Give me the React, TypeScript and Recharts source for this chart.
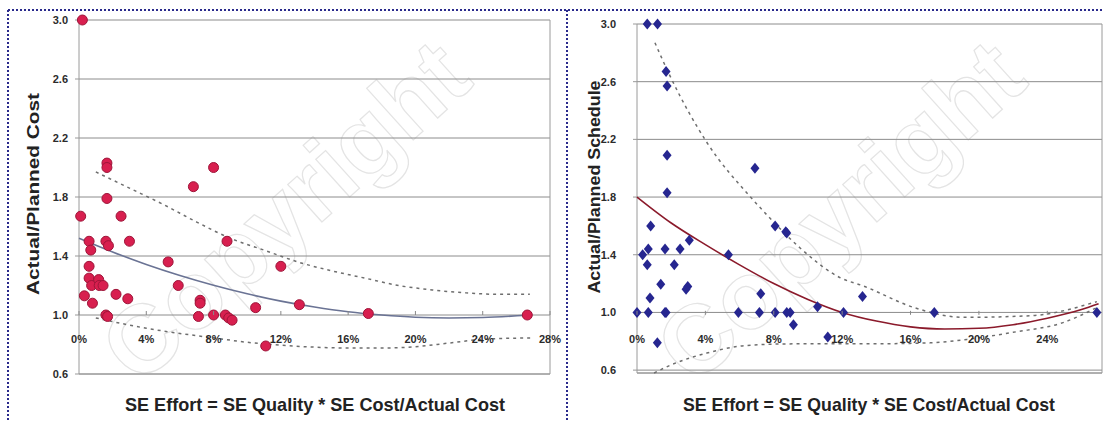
import { ScatterChart, Scatter, XAxis, YAxis, CartesianGrid, ReferenceLine } from "recharts";

const FONT = "Arial, 'Liberation Sans', sans-serif";
const H = 422;

const Y_MIN = 0.6;
const Y_MAX = 3.0;
const Y_TICKS = [0.6, 1.0, 1.4, 1.8, 2.2, 2.6, 3.0];
const COST_X_TICKS = [0, 0.04, 0.08, 0.12, 0.16, 0.2, 0.24, 0.28];
const SCHED_X_TICKS = [0, 0.04, 0.08, 0.12, 0.16, 0.2, 0.24];

// left chart: actual/planned cost
const costEffort = [
  0.002, 0.0166, 0.0166, 0.0166, 0.08, 0.068, 0.001, 0.025, 0.006, 0.007, 0.016, 0.0175, 0.03,
  0.006, 0.006, 0.0075, 0.0117, 0.012, 0.0143, 0.0032, 0.008, 0.022, 0.029, 0.016, 0.017, 0.053,
  0.059, 0.072, 0.072, 0.071, 0.08, 0.087, 0.089, 0.091, 0.088, 0.105, 0.111, 0.12, 0.131, 0.172, 0.2665,
];
const costRatio = [
  3.0, 2.03, 2.0, 1.79, 2.0, 1.87, 1.67, 1.67, 1.5, 1.44, 1.5, 1.47, 1.5,
  1.33, 1.25, 1.2, 1.24, 1.2, 1.2, 1.13, 1.08, 1.14, 1.11, 1.0, 0.99, 1.36,
  1.2, 1.1, 1.08, 0.99, 1.0, 1.0, 0.98, 0.965, 1.5, 1.05, 0.79, 1.33, 1.07, 1.01, 1.0,
];
const costFitX = [0, 0.02, 0.04, 0.06, 0.08, 0.1, 0.12, 0.14, 0.16, 0.18, 0.2, 0.22, 0.24, 0.2665];
const costFitY = [1.52, 1.427, 1.343, 1.268, 1.202, 1.144, 1.094, 1.054, 1.022, 1.0, 0.985, 0.98, 0.983, 0.998];
const costUpperX = [0.01, 0.03, 0.05, 0.07, 0.09, 0.11, 0.13, 0.15, 0.17, 0.19, 0.21, 0.23, 0.25, 0.268];
const costUpperY = [1.97, 1.86, 1.75, 1.63, 1.52, 1.44, 1.36, 1.3, 1.25, 1.2, 1.17, 1.15, 1.14, 1.14];
const costLowerX = [0.01, 0.02, 0.04, 0.06, 0.08, 0.1, 0.12, 0.14, 0.16, 0.18, 0.2, 0.22, 0.24, 0.27];
const costLowerY = [0.98, 0.955, 0.91, 0.875, 0.845, 0.815, 0.795, 0.782, 0.776, 0.776, 0.785, 0.81, 0.835, 0.845];

// right chart: actual/planned schedule
const schedEffort = [
  0.006, 0.012, 0.017, 0.0176, 0.0176, 0.0176, 0.069, 0.008, 0.0033, 0.0066, 0.006, 0.0164, 0.0218,
  0.0252, 0.0306, 0.0297, 0.0287, 0.0139, 0.0076, 0.0119, 0, 0.0066, 0.0164, 0.017, 0.0535, 0.0593,
  0.0716, 0.0724, 0.0808, 0.0876, 0.0896, 0.0808, 0.0876, 0.087, 0.0915, 0.1056, 0.1116, 0.1208,
  0.1319, 0.1739, 0.269,
];
const schedRatio = [
  3.0, 3.0, 2.67, 2.57, 2.09, 1.83, 2.0, 1.6, 1.4, 1.44, 1.33, 1.44, 1.33,
  1.44, 1.5, 1.18, 1.16, 1.195, 1.1, 0.79, 1.0, 1.0, 1.0, 1.0, 1.4, 1.0,
  1.0, 1.13, 1.0, 1.0, 1.0, 1.6, 1.55, 1.56, 0.915, 1.04, 0.83, 1.0,
  1.11, 1.0, 1.0,
];
const schedFitX = [0, 0.02, 0.04, 0.06, 0.08, 0.1, 0.12, 0.14, 0.16, 0.18, 0.2, 0.22, 0.24, 0.26, 0.27];
const schedFitY = [1.8, 1.62, 1.47, 1.33, 1.2, 1.09, 1.0, 0.94, 0.9, 0.885, 0.89, 0.915, 0.96, 1.02, 1.06];
const schedUpperX = [0.0105, 0.0193, 0.0408, 0.0672, 0.076, 0.0954, 0.119, 0.1325, 0.162, 0.191, 0.23, 0.269];
const schedUpperY = [2.87, 2.64, 2.18, 1.79, 1.676, 1.447, 1.24, 1.183, 1.034, 0.966, 0.977, 1.075];
const schedLowerX = [0.01, 0.0193, 0.0408, 0.0642, 0.0915, 0.1325, 0.1715, 0.195, 0.22, 0.2496, 0.269];
const schedLowerY = [0.58, 0.633, 0.718, 0.771, 0.782, 0.782, 0.789, 0.816, 0.862, 0.931, 1.034];

const zip = (xs: number[], ys: number[]) => xs.map((x, i) => ({ x, y: ys[i] }));

const tickStyle = { fill: "#2b2b2b", fontSize: 11, fontWeight: 700, fontFamily: FONT };

const RedDot = (p: any) => (
  <circle cx={p.cx} cy={p.cy} r={5} fill="#d81f4f" stroke="#9e1539" strokeWidth={1} />
);
const BlueDiamond = (p: any) => (
  <path d={`M${p.cx},${p.cy - 5.5}L${p.cx + 4.5},${p.cy}L${p.cx},${p.cy + 5.5}L${p.cx - 4.5},${p.cy}Z`} fill="#262690" />
);
const NoShape = () => <g />;

// x axis crosses at y = 1.0, so tick labels sit under that gridline
const XTick = ({ x, payload, crossY }: any) => (
  <g>
    <line x1={x} x2={x} y1={crossY - 4} y2={crossY} stroke="#888" />
    <text x={x} y={crossY + 28} textAnchor="middle" {...tickStyle}>
      {Math.round(payload.value * 100)}%
    </text>
  </g>
);

interface PanelProps {
  width: number;
  margin: { top: number; right: number; bottom: number; left: number };
  yWidth: number;
  yTickMargin: number;
  xMax: number;
  xTicks: number[];
  points: { x: number; y: number }[];
  fit: { x: number; y: number }[];
  upper: { x: number; y: number }[];
  lower: { x: number; y: number }[];
  fitColor: string;
  shape: any;
}

function Panel({ width, margin, yWidth, yTickMargin, xMax, xTicks, points, fit, upper, lower, fitColor, shape }: PanelProps) {
  const plotH = H - margin.top - margin.bottom - 20;
  const crossY = margin.top + ((Y_MAX - 1) / (Y_MAX - Y_MIN)) * plotH;
  return (
    <ScatterChart width={width} height={H} margin={margin}>
      <CartesianGrid vertical={false} stroke="#8c8c8c" />
      <XAxis
        type="number"
        dataKey="x"
        domain={[0, xMax]}
        ticks={xTicks}
        interval={0}
        height={20}
        axisLine={{ stroke: "#9a9a9a" }}
        tickLine={false}
        tick={(p: any) => <XTick {...p} crossY={crossY} />}
      />
      <YAxis
        type="number"
        dataKey="y"
        domain={[Y_MIN, Y_MAX]}
        ticks={Y_TICKS}
        width={yWidth}
        tickFormatter={(v: number) => v.toFixed(1)}
        tick={tickStyle}
        tickSize={4}
        tickMargin={yTickMargin}
        tickLine={{ stroke: "#999" }}
        axisLine={{ stroke: "#9a9a9a" }}
      />
      <ReferenceLine x={xMax} stroke="#9a9a9a" />
      <Scatter data={upper} line={{ stroke: "#6e6e6e", strokeWidth: 1.5, strokeDasharray: "3 4" }} lineJointType="monotoneX" shape={NoShape} isAnimationActive={false} />
      <Scatter data={lower} line={{ stroke: "#6e6e6e", strokeWidth: 1.5, strokeDasharray: "3 4" }} lineJointType="monotoneX" shape={NoShape} isAnimationActive={false} />
      <Scatter data={fit} line={{ stroke: fitColor, strokeWidth: 1.6 }} lineJointType="monotoneX" shape={NoShape} isAnimationActive={false} />
      <Scatter data={points} shape={shape} isAnimationActive={false} />
    </ScatterChart>
  );
}

export default function App() {
  const titleStyle = { fill: "#222", fontWeight: 700, fontFamily: FONT };
  const markStyle = { fontSize: 96, fontWeight: 700, fontFamily: FONT, fill: "none", stroke: "#e4e4e4", strokeWidth: 1.2 };
  return (
    <div style={{ position: "relative", width: 1104, height: H, background: "#fff", overflow: "hidden" }}>
      <style>{"body{margin:0}"}</style>
      {/* faint watermark */}
      <svg width={1104} height={H} style={{ position: "absolute", left: 0, top: 0 }}>
        <text x={285} y={244} textAnchor="middle" transform="rotate(-42 285 211)" {...markStyle}>Copyright</text>
        <text x={840} y={244} textAnchor="middle" transform="rotate(-42 840 211)" {...markStyle}>Copyright</text>
      </svg>
      <div style={{ position: "absolute", left: 0, top: 0 }}>
        <Panel
          width={567}
          margin={{ top: 20, right: 17, bottom: 28, left: 19 }}
          yWidth={60}
          yTickMargin={7}
          xMax={0.28}
          xTicks={COST_X_TICKS}
          points={zip(costEffort, costRatio)}
          fit={zip(costFitX, costFitY)}
          upper={zip(costUpperX, costUpperY)}
          lower={zip(costLowerX, costLowerY)}
          fitColor="#6a7394"
          shape={RedDot}
        />
      </div>
      <div style={{ position: "absolute", left: 567, top: 0 }}>
        <Panel
          width={537}
          margin={{ top: 24, right: 2, bottom: 29, left: 20 }}
          yWidth={50}
          yTickMargin={17}
          xMax={0.272}
          xTicks={SCHED_X_TICKS}
          points={zip(schedEffort, schedRatio)}
          fit={zip(schedFitX, schedFitY)}
          upper={zip(schedUpperX, schedUpperY)}
          lower={zip(schedLowerX, schedLowerY)}
          fitColor="#8b1a2b"
          shape={BlueDiamond}
        />
      </div>
      <svg width={1104} height={H} style={{ position: "absolute", left: 0, top: 0, pointerEvents: "none" }}>
        <g stroke="#2a2a8c" strokeWidth={2} strokeDasharray="2 2">
          <line x1={8} y1={10} x2={1104} y2={10} />
          <line x1={8} y1={10} x2={8} y2={H} />
          <line x1={567} y1={10} x2={567} y2={H} />
        </g>
        <text x={315} y={411} textAnchor="middle" fontSize={19} textLength={380} lengthAdjust="spacingAndGlyphs" {...titleStyle}>
          SE Effort = SE Quality * SE Cost/Actual Cost
        </text>
        <text x={869} y={411} textAnchor="middle" fontSize={19} textLength={372} lengthAdjust="spacingAndGlyphs" {...titleStyle}>
          SE Effort = SE Quality * SE Cost/Actual Cost
        </text>
        <text x={39} y={194} textAnchor="middle" fontSize={17} textLength={202} lengthAdjust="spacingAndGlyphs"
          transform="rotate(-90 39 194)" {...titleStyle}>
          Actual/Planned Cost
        </text>
        <text x={600} y={187} textAnchor="middle" fontSize={17} textLength={213} lengthAdjust="spacingAndGlyphs"
          transform="rotate(-90 600 187)" {...titleStyle}>
          Actual/Planned Schedule
        </text>
      </svg>
    </div>
  );
}
